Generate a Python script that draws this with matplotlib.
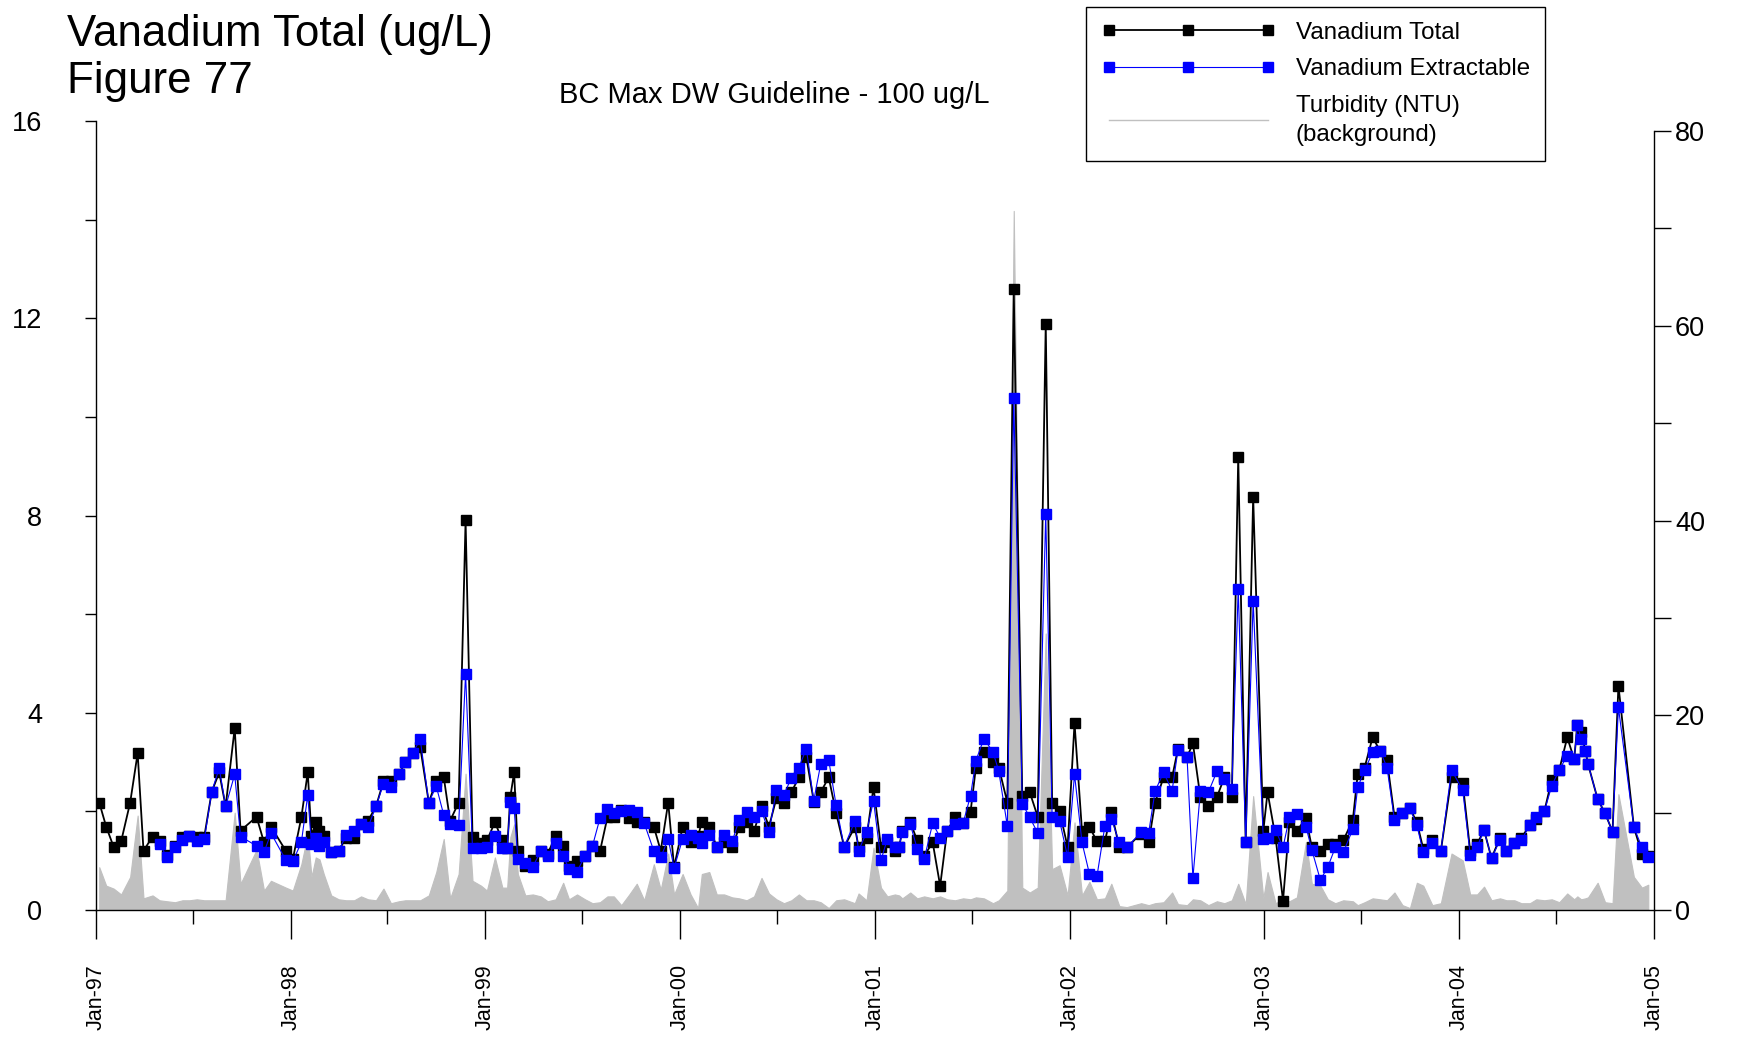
import numpy as np
import pandas as pd
import matplotlib
matplotlib.use("Agg")
import matplotlib.pyplot as plt
import matplotlib.dates as mdates
from matplotlib.lines import Line2D

plt.rcParams['font.family'] = ['Liberation Sans', 'DejaVu Sans']

# sample dates (approx. biweekly)
dates = [
    "1997-01-07", "1997-01-20", "1997-02-03", "1997-02-17", "1997-03-06", "1997-03-20", "1997-03-31", "1997-04-17",
    "1997-04-30", "1997-05-14", "1997-05-29", "1997-06-12", "1997-06-25", "1997-07-09", "1997-07-23", "1997-08-06",
    "1997-08-20", "1997-09-01", "1997-09-18", "1997-09-29", "1997-10-29", "1997-11-12", "1997-11-25", "1997-12-23",
    "1998-01-05", "1998-01-21", "1998-02-02", "1998-02-09", "1998-02-17", "1998-02-24", "1998-03-04", "1998-03-18",
    "1998-04-01", "1998-04-15", "1998-04-30", "1998-05-13", "1998-05-26", "1998-06-10", "1998-06-24", "1998-07-08",
    "1998-07-23", "1998-08-04", "1998-08-18", "1998-09-01", "1998-09-17", "1998-10-01", "1998-10-15", "1998-10-27",
    "1998-11-12", "1998-11-25", "1998-12-08", "1998-12-24",
    "1999-01-04", "1999-01-19", "1999-02-02", "1999-02-11", "1999-02-17", "1999-02-24", "1999-03-03", "1999-03-17",
    "1999-03-31", "1999-04-15", "1999-04-28", "1999-05-13", "1999-05-27", "1999-06-07", "1999-06-22", "1999-07-07",
    "1999-07-21", "1999-08-04", "1999-08-18", "1999-08-30", "1999-09-13", "1999-09-28", "1999-10-12", "1999-10-26",
    "1999-11-13", "1999-11-26", "1999-12-10", "1999-12-21",
    "2000-01-06", "2000-01-21", "2000-02-04", "2000-02-11", "2000-02-25", "2000-03-10", "2000-03-24", "2000-04-08",
    "2000-04-21", "2000-05-05", "2000-05-19", "2000-06-02", "2000-06-16", "2000-06-30", "2000-07-14", "2000-07-28",
    "2000-08-11", "2000-08-25", "2000-09-08", "2000-09-21", "2000-10-06", "2000-10-20", "2000-11-04", "2000-11-24",
    "2000-12-01", "2000-12-16", "2000-12-29",
    "2001-01-12", "2001-01-24", "2001-02-07", "2001-02-15", "2001-02-21", "2001-03-08", "2001-03-21", "2001-04-03",
    "2001-04-19", "2001-05-03", "2001-05-16", "2001-05-31", "2001-06-15", "2001-06-29", "2001-07-09", "2001-07-24",
    "2001-08-10", "2001-08-21", "2001-09-06", "2001-09-18", "2001-10-04", "2001-10-18", "2001-11-02", "2001-11-17",
    "2001-11-29", "2001-12-13", "2001-12-28",
    "2002-01-10", "2002-01-24", "2002-02-07", "2002-02-21", "2002-03-08", "2002-03-20", "2002-04-04", "2002-04-18",
    "2002-05-15", "2002-05-29", "2002-06-10", "2002-06-26", "2002-07-12", "2002-07-23", "2002-08-09", "2002-08-20",
    "2002-09-03", "2002-09-18", "2002-10-04", "2002-10-18", "2002-11-01", "2002-11-13", "2002-11-27", "2002-12-11",
    "2002-12-30",
    "2003-01-07", "2003-01-22", "2003-02-05", "2003-02-17", "2003-03-03", "2003-03-20", "2003-03-31", "2003-04-16",
    "2003-04-30", "2003-05-14", "2003-05-29", "2003-06-16", "2003-06-25", "2003-07-08", "2003-07-23", "2003-08-06",
    "2003-08-19", "2003-09-02", "2003-09-17", "2003-10-01", "2003-10-14", "2003-10-26", "2003-11-12", "2003-11-28",
    "2003-12-18",
    "2004-01-08", "2004-01-22", "2004-02-04", "2004-02-17", "2004-03-02", "2004-03-18", "2004-03-30", "2004-04-14",
    "2004-04-27", "2004-05-13", "2004-05-25", "2004-06-09", "2004-06-23", "2004-07-07", "2004-07-22", "2004-08-04",
    "2004-08-10", "2004-08-17", "2004-08-25", "2004-08-30", "2004-09-17", "2004-10-01", "2004-10-15", "2004-10-26",
    "2004-11-24", "2004-12-09", "2004-12-21",
]

vanadium_total = [
    2.18, 1.69, 1.28, 1.39, 2.18, 3.18, 1.20, 1.49, 1.40, 1.12, 1.30, 1.49, 1.51, 1.49, 1.49, 2.40,
    2.79, 2.10, 3.69, 1.61, 1.89, 1.37, 1.69, 1.20,
    1.03, 1.88, 2.79, 1.51, 1.78, 1.61, 1.51, 1.18, 1.20, 1.47, 1.47, 1.74, 1.81, 2.10, 2.61, 2.61,
    2.75, 3.00, 3.19, 3.30, 2.18, 2.62, 2.70, 1.81, 2.18, 7.90, 1.49, 1.35,
    1.41, 1.78, 1.41, 1.25, 2.30, 2.79, 1.20, 0.90, 1.01, 1.19, 1.14, 1.51, 1.29, 0.90, 1.00, 1.10,
    1.30, 1.19, 1.88, 1.88, 2.02, 1.87, 1.78, 1.78, 1.69, 1.20, 2.18, 0.87,
    1.68, 1.37, 1.50, 1.78, 1.69, 1.28, 1.37, 1.27, 1.68, 1.78, 1.60, 2.10, 1.69, 2.27, 2.18, 2.39,
    2.69, 3.10, 2.20, 2.39, 2.69, 1.96, 1.28, 1.68, 1.28, 1.47, 2.49,
    1.28, 1.37, 1.20, 1.28, 1.61, 1.78, 1.41, 1.10, 1.37, 0.49, 1.60, 1.89, 1.76, 1.99, 2.89, 3.20,
    3.00, 2.89, 2.18, 12.59, 2.31, 2.39, 1.89, 11.89, 2.18, 2.00, 1.28,
    3.79, 1.60, 1.69, 1.39, 1.39, 1.99, 1.27, 1.27, 1.55, 1.37, 2.18, 2.69, 2.69, 3.27, 3.10, 3.38,
    2.29, 2.10, 2.29, 2.69, 2.29, 9.19, 1.37, 8.38, 1.60,
    2.39, 1.47, 0.19, 1.78, 1.60, 1.87, 1.27, 1.19, 1.33, 1.33, 1.41, 1.83, 2.75, 2.89, 3.50, 3.23,
    3.04, 1.89, 1.96, 2.06, 1.78, 1.24, 1.41, 1.20, 2.69,
    2.57, 1.20, 1.34, 1.62, 1.05, 1.47, 1.19, 1.35, 1.46, 1.73, 1.85, 2.00, 2.64, 2.84, 3.50, 3.06,
    3.75, 3.60, 3.23, 2.96, 2.25, 1.96, 1.59, 4.55, 1.68, 1.14, 1.10,
]

vanadium_extractable = [
    None, None, None, None, None, None, None, None, 1.33, 1.08, 1.28, 1.42, 1.51, 1.39, 1.43, 2.40,
    2.88, 2.10, 2.75, 1.49, 1.30, 1.17, 1.56, 1.01,
    0.99, 1.37, 2.33, 1.33, 1.47, 1.30, 1.37, 1.18, 1.20, 1.52, 1.60, 1.74, 1.68, 2.10, 2.56, 2.49,
    2.75, 3.00, 3.19, 3.46, 2.18, 2.51, 1.93, 1.74, 1.73, 4.79, 1.25, 1.25,
    1.27, 1.51, 1.25, 1.25, 2.20, 2.07, 1.03, 0.95, 0.88, 1.19, 1.09, 1.36, 1.10, 0.83, 0.78, 1.10,
    1.30, 1.86, 2.04, 1.96, 2.00, 2.03, 1.98, 1.76, 1.20, 1.07, 1.44, 0.85,
    1.44, 1.53, 1.46, 1.35, 1.53, 1.28, 1.53, 1.39, 1.83, 1.98, 1.89, 2.01, 1.58, 2.44, 2.34, 2.68,
    2.89, 3.27, 2.22, 2.96, 3.04, 2.12, 1.28, 1.80, 1.20, 1.58, 2.22,
    1.01, 1.44, 1.27, 1.28, 1.58, 1.74, 1.24, 1.03, 1.76, 1.47, 1.60, 1.74, 1.76, 2.32, 3.03, 3.47,
    3.21, 2.81, 1.70, 10.39, 2.16, 1.88, 1.56, 8.03, 1.88, 1.81, 1.08,
    2.75, 1.37, 0.73, 0.68, 1.71, 1.85, 1.37, 1.27, 1.58, 1.56, 2.41, 2.79, 2.42, 3.25, 3.10, 0.65,
    2.41, 2.39, 2.81, 2.65, 2.45, 6.52, 1.37, 6.27, 1.44,
    1.47, 1.62, 1.27, 1.88, 1.95, 1.69, 1.22, 0.61, 0.87, 1.27, 1.17, 1.64, 2.49, 2.83, 3.20, 3.23,
    2.89, 1.83, 1.96, 2.06, 1.72, 1.17, 1.35, 1.20, 2.84,
    2.43, 1.12, 1.28, 1.62, 1.05, 1.42, 1.19, 1.35, 1.41, 1.73, 1.88, 2.00, 2.52, 2.84, 3.13, 3.06,
    3.75, 3.47, 3.23, 2.96, 2.25, 1.96, 1.59, 4.11, 1.68, 1.27, 1.07,
]

turbidity = [
    4.4, 2.5, 2.2, 1.6, 3.4, 9.7, 1.2, 1.5, 1.0, 0.9, 0.8, 1.0, 1.0, 1.1, 1.0, 1.0,
    1.0, 1.0, 10.0, 2.7, 6.2, 2.0, 3.0, 2.3,
    2.0, 4.7, 7.8, 3.4, 5.4, 5.2, 3.7, 1.5, 1.1, 1.0, 1.0, 1.4, 1.1, 1.0, 2.2, 0.7,
    0.9, 1.0, 1.0, 1.0, 1.5, 3.9, 7.3, 1.2, 3.7, 14.0, 3.0, 2.5,
    2.0, 5.4, 2.3, 2.3, 7.5, 8.8, 3.7, 1.5, 1.6, 1.4, 0.9, 1.1, 2.8, 1.1, 1.6, 1.1,
    0.7, 0.8, 1.4, 1.4, 0.5, 1.6, 2.7, 1.0, 4.7, 2.1, 5.8, 1.6,
    3.7, 1.6, 0.2, 3.7, 3.9, 1.6, 1.6, 1.3, 1.2, 1.0, 1.4, 3.3, 1.7, 1.1, 0.7, 1.0,
    1.6, 1.0, 1.0, 0.8, 0.2, 1.0, 1.1, 0.7, 1.7, 1.0, 6.4,
    2.3, 1.4, 1.6, 1.5, 1.2, 1.8, 1.2, 1.4, 1.2, 1.4, 1.1, 1.0, 1.2, 1.1, 1.3, 1.2,
    0.7, 1.0, 2.0, 71.8, 2.3, 1.8, 2.3, 28.4, 4.2, 4.6, 1.5,
    9.0, 1.5, 2.9, 1.1, 1.2, 2.7, 0.4, 0.3, 0.7, 0.5, 0.7, 0.8, 1.8, 0.6, 0.5, 1.1,
    1.0, 0.5, 0.9, 0.7, 1.0, 2.7, 0.6, 11.7, 1.2,
    3.9, 0.7, 1.1, 0.9, 1.3, 7.0, 2.7, 2.5, 1.1, 0.7, 1.0, 0.9, 0.5, 0.8, 1.2, 1.1,
    1.0, 1.8, 0.5, 0.2, 2.8, 2.5, 0.5, 0.7, 5.8,
    5.1, 1.6, 1.6, 2.4, 1.0, 1.2, 1.0, 1.0, 0.7, 0.7, 1.1, 1.0, 1.1, 0.8, 1.7, 1.1,
    1.4, 1.1, 1.2, 1.3, 2.8, 0.8, 0.7, 11.9, 3.4, 2.3, 2.6,
]

x = pd.to_datetime(dates)
total = np.array(vanadium_total, dtype=float)
extract = np.array([np.nan if v is None else v for v in vanadium_extractable], dtype=float)
turb = np.array(turbidity, dtype=float)

fig = plt.figure(figsize=(17.56, 10.38), dpi=100)
ax = fig.add_axes([0.0547, 0.1233, 0.8873, 0.7601])   # turbidity (right scale)
ax2 = ax.twinx()                                       # vanadium (left scale)

ax.fill_between(x, turb, 0, color='#C0C0C0', edgecolor='#C0C0C0', lw=0.8, zorder=1)
ax.set_ylim(0, 81.03)
ax.yaxis.tick_right()
ax.set_yticks([0, 20, 40, 60, 80])
ax.set_yticks([10, 30, 50, 70], minor=True)

ax2.plot(x, total, color='black', lw=1.3, marker='s', ms=7, mfc='black', mec='black', zorder=2)
ax2.plot(x, extract, color='#0000FF', lw=0.8, marker='s', ms=7, mfc='#0000FF', mec='#0000FF', zorder=3)
ax2.set_ylim(0, 16)
ax2.yaxis.tick_left()
ax2.set_yticks([0, 4, 8, 12, 16])
ax2.set_yticks([2, 6, 10, 14], minor=True)

ax.set_xlim(pd.Timestamp("1997-01-01"), pd.Timestamp("2005-01-01"))
ax.xaxis.set_major_locator(mdates.YearLocator())
ax.xaxis.set_minor_locator(mdates.MonthLocator(bymonth=7))
ax.xaxis.set_major_formatter(mdates.DateFormatter('%b-%y'))
for lab in ax.get_xticklabels():
    lab.set_rotation(90)

# spines
for s in ['top', 'left']:
    ax.spines[s].set_visible(False)
for s in ['top', 'right', 'bottom']:
    ax2.spines[s].set_visible(False)
ax2.spines['left'].set_visible(True)
ax.spines['right'].set_bounds(0, 80)
for sp in [ax.spines['right'], ax.spines['bottom'], ax2.spines['left']]:
    sp.set_linewidth(1.0)

ax.tick_params(axis='x', which='major', direction='out', length=21, width=1, pad=18, labelsize=15.5)
ax.tick_params(axis='x', which='minor', direction='out', length=10, width=1)
ax.tick_params(axis='y', which='both', direction='out', length=12, width=1, pad=3, labelsize=19.5)
ax2.tick_params(axis='y', which='both', direction='out', length=8, width=1, pad=31, labelsize=19.5)

# titles
fig.text(0.038, 0.9557, 'Vanadium Total (ug/L)', fontsize=31.6, va='baseline')
fig.text(0.038, 0.9104, 'Figure 77', fontsize=31.6, va='baseline')
fig.text(0.441, 0.9008, 'BC Max DW Guideline - 100 ug/L', fontsize=21, ha='center', va='baseline')

handles = [
    Line2D([], [], color='black', lw=1.3, marker='s', ms=7),
    Line2D([], [], color='#0000FF', lw=0.8, marker='s', ms=7),
    Line2D([], [], color='#C0C0C0', lw=1.0),
]
labels = ['Vanadium Total', 'Vanadium Extractable', 'Turbidity (NTU)\n(background)']
leg = ax2.legend(handles, labels, loc='upper right', bbox_to_anchor=(0.8798, 0.9933),
                 bbox_transform=fig.transFigure, numpoints=3, handlelength=7.2,
                 handletextpad=0.85, fontsize=17.4, frameon=True, fancybox=False,
                 edgecolor='black', framealpha=1, borderpad=0.62, borderaxespad=0,
                 labelspacing=0.6)
leg.get_frame().set_linewidth(1.0)
leg.get_texts()[2].set_linespacing(1.4)

fig.savefig('out.png', dpi=100)
